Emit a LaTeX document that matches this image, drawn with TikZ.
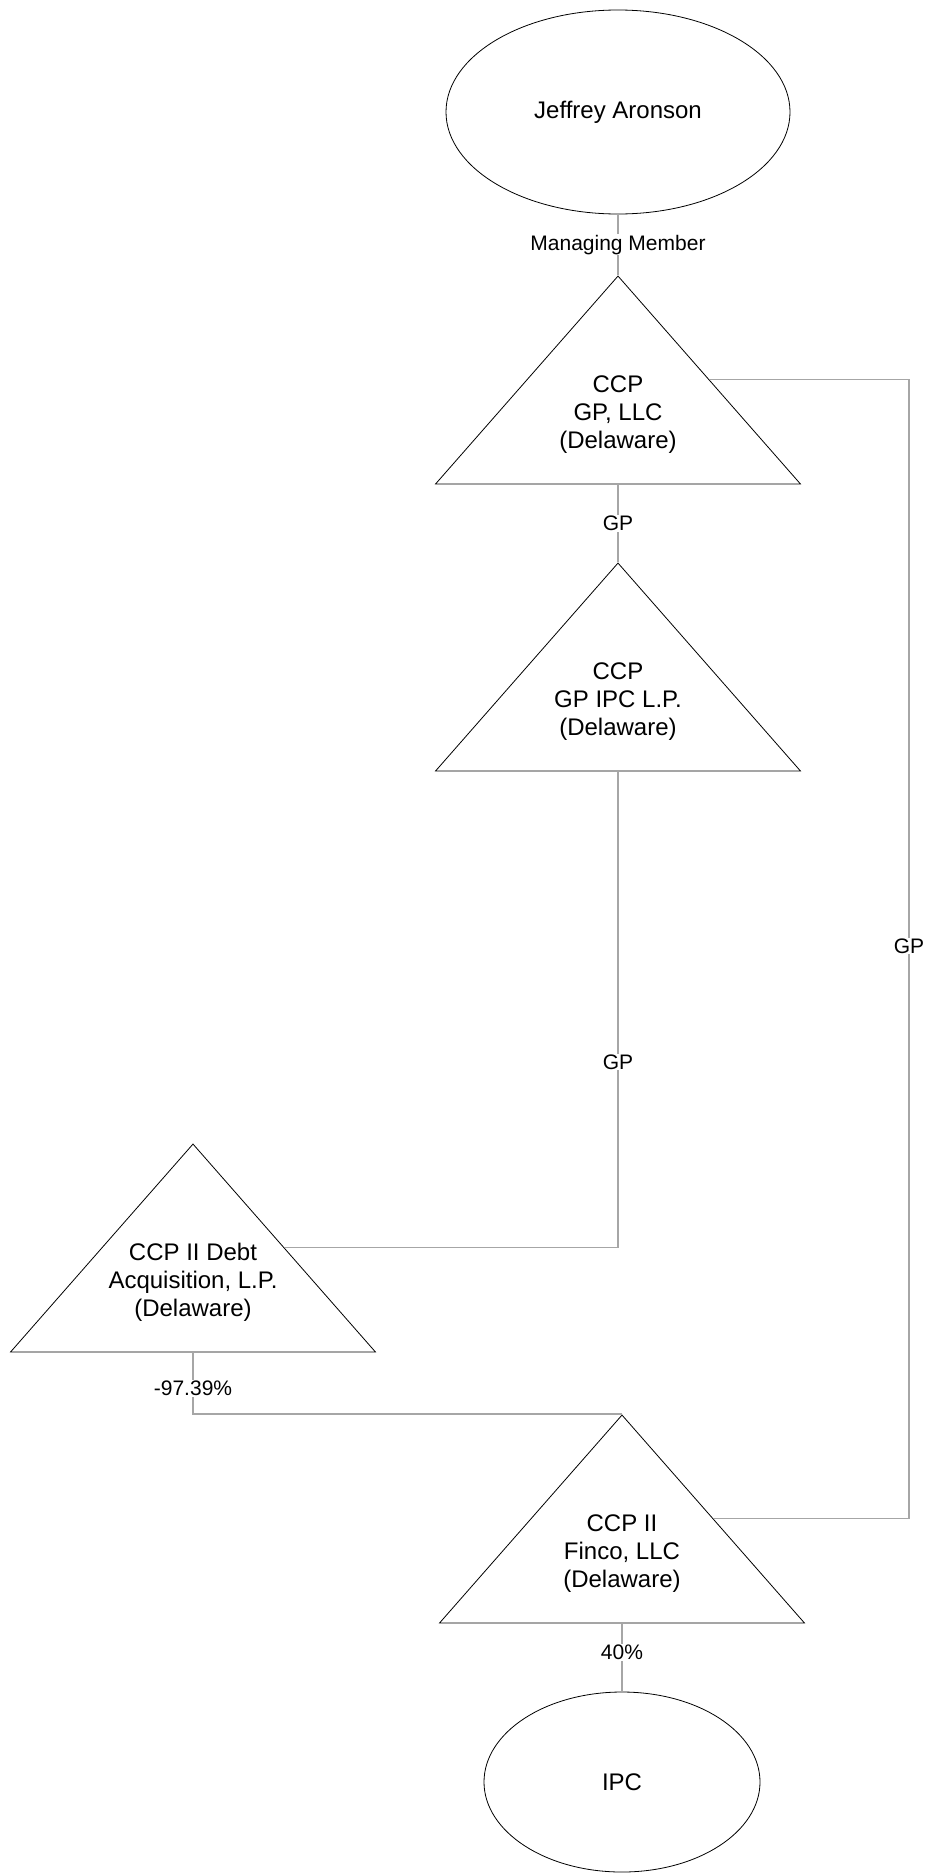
\documentclass[tikz,border=0pt]{standalone}
\usepackage{fontspec}
\setmainfont{Liberation Sans}
\usetikzlibrary{shapes.geometric, calc}
\definecolor{linkgray}{HTML}{A6A6A6}
\tikzset{
  owner/.style={draw, ellipse, line width=0.4pt, inner sep=0pt, font=\fontsize{12}{14}\selectfont},
  entity/.style={draw, isosceles triangle, isosceles triangle stretches, shape border rotate=90,
                 minimum width=182.5pt, minimum height=104pt, inner sep=0pt, line width=0.4pt, anchor=apex},
  entitytext/.style={align=center, font=\fontsize{12}{14}\selectfont},
  link/.style={draw=linkgray, line width=0.6pt},
  pct/.style={fill=white, inner sep=0.5pt, font=\fontsize{10.5}{12}\selectfont},
}

\begin{document}
\begin{tikzpicture}[x=0.5pt, y=-0.5pt]
\useasboundingbox (0,0) rectangle (929,1874);
% owners
\node[owner, minimum width=172pt, minimum height=102pt] (aronson) at (618,112) {Jeffrey Aronson};
\node[owner, minimum width=138pt, minimum height=90pt] (ipc) at (622,1782) {IPC};
% entities
\node[entity] (gpllc) at (618,275) {};
\node[entity] (gpipc) at (618,562) {};
\node[entity] (debt) at (193,1143) {};
\node[entity] (finco) at (622,1414) {};
\node[entitytext] (gpllc-t) at ($(gpllc.apex)!.667!(gpllc.lower side)$) {CCP\\GP, LLC\\(Delaware)};
\node[entitytext] (gpipc-t) at ($(gpipc.apex)!.667!(gpipc.lower side)$) {CCP\\GP IPC L.P.\\(Delaware)};
\node[entitytext] (debt-t) at ($(debt.apex)!.667!(debt.lower side)$) {CCP II Debt\\Acquisition, L.P.\\(Delaware)};
\node[entitytext] (finco-t) at ($(finco.apex)!.667!(finco.lower side)$) {CCP II\\Finco, LLC\\(Delaware)};
\coordinate (rail) at (909,946);

% links
\draw[link] (aronson) -- node[pct] {Managing Member} (gpllc.apex);
\draw[link] (gpllc.lower side) -- node[pct] {GP} (gpipc.apex);
\draw[link] (gpipc.lower side) |- node[pct, pos=.305] {GP} (debt.right side);
\draw[link] (debt.lower side) |- node[pct, pos=.29] {-97.39\%} (finco.apex);
\draw[link] (gpllc.right side) -| (rail) node[pct] {GP} |- (finco.right side);
\draw[link] (finco.lower side) -- node[pct, pos=.42] {40\%} (ipc);
\end{tikzpicture}
\end{document}
